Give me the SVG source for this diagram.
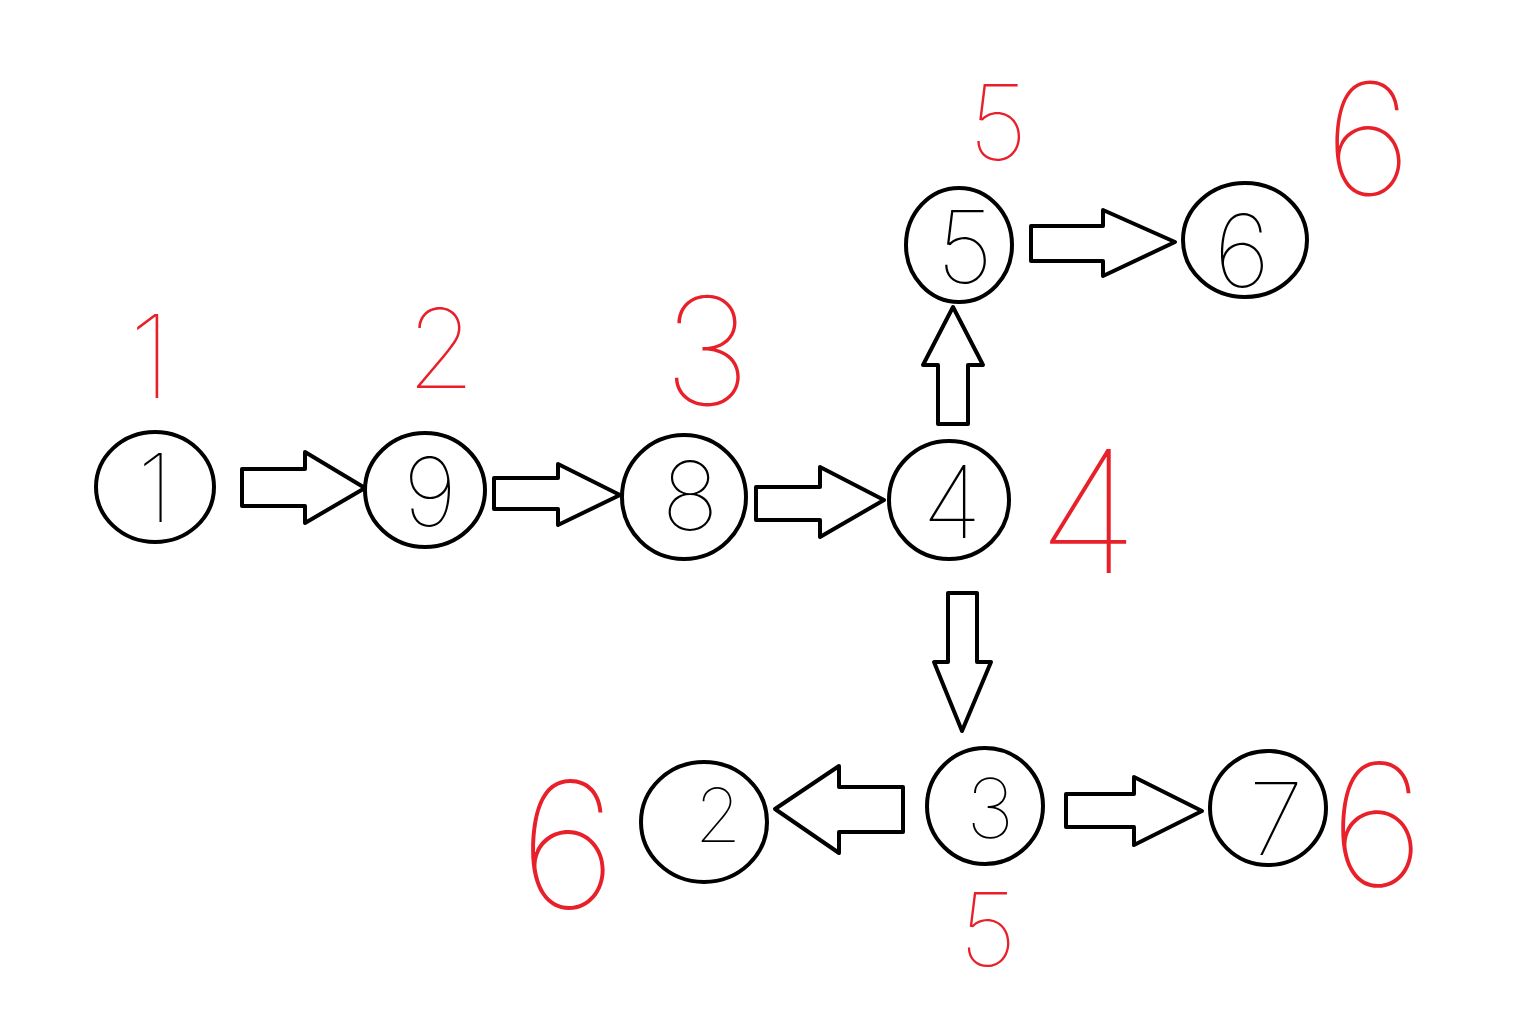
<svg xmlns="http://www.w3.org/2000/svg" width="1535" height="1028" viewBox="0 0 1535 1028">
<style>
.node ellipse{fill:none;stroke:#000;stroke-width:4}
.node text{font-family:"Inter","Roboto","DejaVu Sans",sans-serif;font-weight:100;fill:#000;text-anchor:middle}
.arrow{fill:none;stroke:#000;stroke-width:4;stroke-linejoin:round}
.lbl{font-family:"Inter","Roboto","DejaVu Sans",sans-serif;font-weight:100;fill:#e8202a;text-anchor:middle}
</style>
<rect width="1535" height="1028" fill="#fff"/>
<g id="connectors">
<polygon class="arrow" points="242,469 305,469 305,452 365,488 305,523 305,506 242,506"/>
<polygon class="arrow" points="494,478 558,478 558,464 620,495 558,525 558,509 494,509"/>
<polygon class="arrow" points="756,487 820,487 820,467 884,500 820,537 820,520 756,520"/>
<polygon class="arrow" points="938,424 938,365 923,365 953,307 983,365 968,365 968,424"/>
<polygon class="arrow" points="1031,226 1103,226 1103,210 1175,242 1103,276 1103,261 1031,261"/>
<polygon class="arrow" points="948,593 977,593 977,662 991,662 962,731 934,662 948,662"/>
<polygon class="arrow" points="903,787 839,787 839,766 775,809 839,853 839,832 903,832"/>
<polygon class="arrow" points="1066,794 1134,794 1134,777 1202,811 1134,845 1134,827 1066,827"/>
</g>
<g id="node-1" class="node"><ellipse cx="155" cy="487" rx="59" ry="55"/><text x="155" y="522" font-size="95">1</text></g>
<g id="node-9" class="node"><ellipse cx="425" cy="490" rx="60" ry="57"/><text x="430" y="526" font-size="95">9</text></g>
<g id="node-8" class="node"><ellipse cx="684" cy="497" rx="62" ry="62"/><text x="690" y="530" font-size="95">8</text></g>
<g id="node-4" class="node"><ellipse cx="949" cy="500" rx="60" ry="59"/><text x="952" y="538" font-size="100">4</text></g>
<g id="node-5" class="node"><ellipse cx="959" cy="245" rx="53" ry="57"/><text x="965" y="283" font-size="100">5</text></g>
<g id="node-6" class="node"><ellipse cx="1245" cy="240" rx="62" ry="57"/><text x="1242" y="287" font-size="100">6</text></g>
<g id="node-3" class="node"><ellipse cx="985" cy="806" rx="58" ry="58"/><text x="990" y="838" font-size="82">3</text></g>
<g id="node-2" class="node"><ellipse cx="704" cy="822" rx="63" ry="60"/><text x="718" y="842" font-size="75">2</text></g>
<g id="node-7" class="node"><ellipse cx="1268" cy="808" rx="58" ry="57"/><text x="1276" y="855" font-size="100">7</text></g>
<g id="labels">
<text class="lbl" x="150" y="398" font-size="115">1</text>
<text class="lbl" x="441" y="388" font-size="110">2</text>
<text class="lbl" x="707" y="405" font-size="150">3</text>
<text class="lbl" x="998" y="160" font-size="105">5</text>
<text class="lbl" x="1368" y="195" font-size="155">6</text>
<text class="lbl" x="1088" y="573" font-size="170">4</text>
<text class="lbl" x="568" y="908" font-size="175">6</text>
<text class="lbl" x="988" y="966" font-size="102">5</text>
<text class="lbl" x="1377" y="886" font-size="170">6</text>
</g>
</svg>
